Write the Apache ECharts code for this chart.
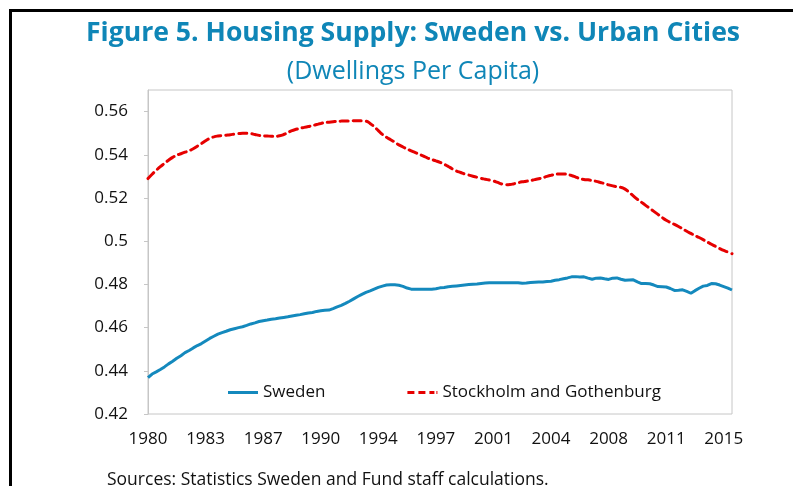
<!DOCTYPE html>
<html>
<head>
<meta charset="utf-8">
<script src="https://cdn.jsdelivr.net/npm/echarts@6/dist/echarts.min.js"></script>
<style>
  html, body { margin: 0; padding: 0; background: #fff; }
  #main { width: 793px; height: 486px; }
</style>
</head>
<body>
<div id="main"></div>
<script>
// quarterly, 1980Q1 .. 2015Q3
var startYear = 1980;
var quarterCount = 143;
var quarters = [];
for (var i = 0; i < quarterCount; i++) {
    quarters.push((startYear + Math.floor(i / 4)) + 'Q' + (i % 4 + 1));
}

var sweden = [
    0.4368, 0.4385, 0.4395, 0.4406,  // 1980
    0.4418, 0.4432, 0.4444, 0.4458,
    0.4470, 0.4484, 0.4494, 0.4506,
    0.4517, 0.4526, 0.4538, 0.4550,
    0.4560, 0.4570, 0.4577, 0.4583,
    0.4590, 0.4595, 0.4600, 0.4604,  // 1985
    0.4610, 0.4617, 0.4622, 0.4628,
    0.4632, 0.4635, 0.4639, 0.4641,
    0.4644, 0.4647, 0.4650, 0.4654,
    0.4657, 0.4660, 0.4664, 0.4668,
    0.4670, 0.4675, 0.4678, 0.4680,  // 1990
    0.4681, 0.4688, 0.4696, 0.4703,
    0.4712, 0.4722, 0.4733, 0.4744,
    0.4754, 0.4763, 0.4770, 0.4778,
    0.4786, 0.4792, 0.4797, 0.4798,
    0.4798, 0.4796, 0.4791, 0.4783,  // 1995
    0.4778, 0.4777, 0.4777, 0.4777,
    0.4777, 0.4778, 0.4780, 0.4784,
    0.4786, 0.4789, 0.4791, 0.4793,
    0.4795, 0.4797, 0.4799, 0.4801,
    0.4802, 0.4804, 0.4806, 0.4808,  // 2000
    0.4808, 0.4808, 0.4808, 0.4808,
    0.4808, 0.4808, 0.4808, 0.4805,
    0.4806, 0.4809, 0.4810, 0.4811,
    0.4811, 0.4813, 0.4815, 0.4819,
    0.4822, 0.4826, 0.4830, 0.4835,  // 2005
    0.4836, 0.4834, 0.4835, 0.4829,
    0.4824, 0.4829, 0.4830, 0.4826,
    0.4823, 0.4829, 0.4830, 0.4824,
    0.4819, 0.4820, 0.4821, 0.4812,
    0.4804, 0.4804, 0.4803, 0.4797,  // 2010
    0.4790, 0.4789, 0.4788, 0.4781,
    0.4772, 0.4773, 0.4775, 0.4768,
    0.4759, 0.4771, 0.4782, 0.4792,
    0.4795, 0.4804, 0.4803, 0.4797,
    0.4790, 0.4783, 0.4774           // 2015
];

var stockholmGothenburg = [
    0.5290, 0.5310, 0.5328, 0.5345,  // 1980
    0.5360, 0.5375, 0.5388, 0.5398,
    0.5405, 0.5412, 0.5419, 0.5428,
    0.5440, 0.5452, 0.5465, 0.5476,
    0.5483, 0.5487, 0.5489, 0.5491,
    0.5493, 0.5496, 0.5498, 0.5500,  // 1985
    0.5500, 0.5498, 0.5494, 0.5490,
    0.5488, 0.5487, 0.5486, 0.5486,
    0.5488, 0.5494, 0.5503, 0.5512,
    0.5518, 0.5523, 0.5527, 0.5531,
    0.5535, 0.5540, 0.5545, 0.5549,  // 1990
    0.5551, 0.5553, 0.5555, 0.5556,
    0.5557, 0.5557, 0.5558, 0.5558,
    0.5558, 0.5556, 0.5545, 0.5530,
    0.5512, 0.5494, 0.5481, 0.5470,
    0.5458, 0.5446, 0.5436, 0.5427,  // 1995
    0.5418, 0.5410, 0.5402, 0.5394,
    0.5385, 0.5378, 0.5372, 0.5365,
    0.5356, 0.5346, 0.5335, 0.5325,
    0.5318, 0.5311, 0.5306, 0.5301,
    0.5296, 0.5291, 0.5287, 0.5283,  // 2000
    0.5279, 0.5272, 0.5265, 0.5261,
    0.5262, 0.5266, 0.5271, 0.5275,
    0.5278, 0.5281, 0.5285, 0.5289,
    0.5294, 0.5300, 0.5305, 0.5309,
    0.5311, 0.5311, 0.5309, 0.5304,  // 2005
    0.5297, 0.5290, 0.5286, 0.5284,
    0.5281, 0.5277, 0.5272, 0.5267,
    0.5261, 0.5256, 0.5252, 0.5249,
    0.5241, 0.5226, 0.5210, 0.5194,
    0.5180, 0.5166, 0.5152, 0.5138,  // 2010
    0.5124, 0.5110, 0.5097, 0.5087,
    0.5078, 0.5068, 0.5057, 0.5046,
    0.5036, 0.5026, 0.5017, 0.5007,
    0.4996, 0.4986, 0.4976, 0.4966,
    0.4957, 0.4950, 0.4942           // 2015
];

var yMin = 0.42, yMax = 0.57, yStep = 0.02;
var labelEvery = 14; // every 14th quarter gets a year label

var teal = '#0f86b7';
var blue = '#1489bd';
var red = '#e60000';
var fontFam = '"Open Sans", "Noto Sans", sans-serif';

// legend glyphs: a solid bar and a dashed bar
var solidIcon = 'path://M0,0 L30,0 L30,3 L0,3 Z';
var dashIcon = 'path://M0,0 L7,0 L7,3 L0,3 Z M11,0 L18,0 L18,3 L11,3 Z M22,0 L27,0 L27,3 L22,3 Z M29,0 L30,0 L30,3 L29,3 Z';

var dom = document.getElementById('main');
var myChart = echarts.init(dom);
var option = {
    backgroundColor: '#fff',
    animation: false,
    title: [
        {
            text: 'Figure 5. Housing Supply: Sweden vs. Urban Cities',
            left: 408, top: 15, textAlign: 'center',
            textStyle: { color: teal, fontFamily: fontFam, fontSize: 26.6, fontWeight: 'bold' }
        },
        {
            text: '(Dwellings Per Capita)',
            left: 408, top: 54, textAlign: 'center',
            textStyle: { color: teal, fontFamily: fontFam, fontSize: 25, fontWeight: 'normal' }
        },
        {
            text: 'Sources: Statistics Sweden and Fund staff calculations.',
            left: 102, top: 466,
            textStyle: { color: '#111', fontFamily: fontFam, fontSize: 17.5, fontWeight: 'normal' }
        }
    ],
    graphic: [{
        type: 'rect',
        shape: { x: 10.5, y: 10.5, width: 900, height: 600 },
        style: { fill: 'none', stroke: '#000', lineWidth: 3 },
        silent: true
    }],
    legend: {
        left: 223, top: 379,
        itemGap: 82,
        itemWidth: 30, itemHeight: 3,
        textStyle: { color: '#111', fontFamily: fontFam, fontSize: 17 },
        data: [
            { name: 'Sweden', icon: solidIcon },
            { name: 'Stockholm and Gothenburg', icon: dashIcon }
        ]
    },
    grid: {
        left: 148, right: 61, top: 90, bottom: 72,
        show: true, borderColor: '#c6c6c6', borderWidth: 1
    },
    xAxis: {
        type: 'category',
        boundaryGap: false,
        data: quarters,
        axisLine: { show: false },
        axisTick: { show: false },
        axisLabel: {
            interval: labelEvery - 1,
            margin: 17,
            color: '#111', fontFamily: fontFam, fontSize: 17,
            formatter: function (v) { return v.slice(0, 4); }
        },
        splitLine: { show: false }
    },
    yAxis: {
        type: 'value',
        min: yMin, max: yMax, interval: yStep,
        axisLine: { show: true, lineStyle: { color: '#c6c6c6' } },
        axisTick: { show: true, inside: false, length: 4, lineStyle: { color: '#c6c6c6' } },
        axisLabel: {
            margin: 20, showMaxLabel: false,
            color: '#111', fontFamily: fontFam, fontSize: 17,
            formatter: function (v) { return String(+v.toFixed(2)); }
        },
        splitLine: { show: false }
    },
    series: [
        {
            name: 'Sweden',
            type: 'line',
            data: sweden,
            symbol: 'none',
            lineStyle: { color: blue, width: 3 },
            itemStyle: { color: blue }
        },
        {
            name: 'Stockholm and Gothenburg',
            type: 'line',
            data: stockholmGothenburg,
            symbol: 'none',
            smooth: true,
            lineStyle: { color: red, width: 3, type: [8, 5], cap: 'round' },
            itemStyle: { color: red }
        }
    ]
};
if (option && typeof option === 'object') {
    myChart.setOption(option, true);
}
</script>
</body>
</html>
